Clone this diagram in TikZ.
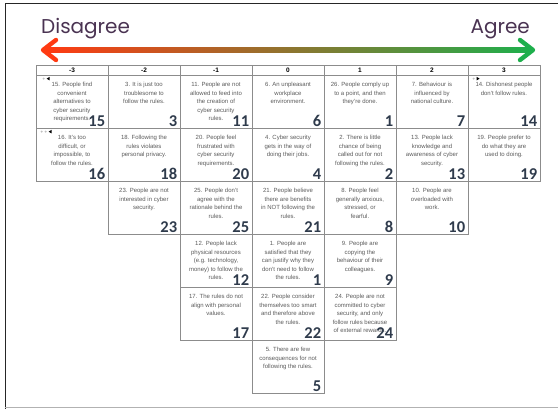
\documentclass[tikz,border=0pt]{standalone}
\usepackage{fontspec}
\setmainfont{Liberation Sans}
\newfontfamily\titlefont{Poppins}
\newfontfamily\numfont{Carlito}
\usetikzlibrary{positioning,calc}
\definecolor{plum}{HTML}{4A3352}
\definecolor{gridgray}{HTML}{8C8C8C}
\definecolor{stmtgray}{HTML}{5A5A5A}
\definecolor{numblue}{HTML}{2F3B4C}
\definecolor{disred}{HTML}{FF3A12}
\definecolor{agrgreen}{HTML}{1EAF4C}
\definecolor{midbrown}{HTML}{B4823A}

% one statement cell: column, row, name, printed number, text
\newcommand\stmtcell[5]{%
  \node[cellbox] (#3) at ({72*(#1+3)+72},{75.5+53*(#2-1)+26.5}) {};
  \node[stmt, below=7pt of #3.north] (#3t) {#5};
  \node[num, above left=2.5pt and 3pt of #3.south east] (#3n) {#4};
}

\begin{document}
\begin{tikzpicture}[x=1pt,y=-1pt,
  cellbox/.style={draw=gridgray,line width=0.7pt,minimum width=72pt,minimum height=53pt,inner sep=0pt},
  headbox/.style={draw=gridgray,line width=0.7pt,minimum width=72pt,minimum height=10.5pt,inner sep=0pt,font=\bfseries\fontsize{6.5}{7}\selectfont},
  stmt/.style={align=center,inner sep=0pt,text=stmtgray,font=\fontsize{6}{8.5}\selectfont},
  num/.style={inner sep=0pt,text=numblue,font=\numfont\bfseries\fontsize{16.5}{17}\selectfont},
  title/.style={inner sep=0pt,text=plum,font=\titlefont\fontsize{20}{22}\selectfont}]
  \useasboundingbox (0,0) rectangle (558,409);
  \draw[black!85,line width=1pt] (5,409) -- (5,4) -- (558,4);
  \draw[black!30,line width=1pt] (5,407.5) -- (558,407.5);

  % scale
  \node[title,anchor=base west] (disagree) at (41,34) {Disagree};
  \node[title,anchor=base east] (agree) at (530,34) {Agree};
  \coordinate (dis) at (43,50);
  \coordinate (agr) at (533,50);
  \shade[left color=disred,middle color=midbrown,right color=agrgreen] ($(dis)+(2,-2.2)$) rectangle ($(agr)+(-2,2.2)$);
  \draw[disred,line width=4.4pt,line cap=round,line join=round] ($(dis)+(13,-10)$) -- (dis) -- ($(dis)+(13,10)$);
  \draw[agrgreen,line width=4.4pt,line cap=round,line join=round] ($(agr)+(-13,-10)$) -- (agr) -- ($(agr)+(-13,10)$);

  % header
  \foreach \c in {-3,...,3}
    \node[headbox] (h\c) at ({72*(\c+3)+72},70.25) {\c};

  % row 1
  \stmtcell{-3}{1}{s15}{15}{15. People find\\convenient\\alternatives to\\cyber security\\requirements.}
  \stmtcell{-2}{1}{s3}{3}{3. It is just too\\troublesome to\\follow the rules.}
  \stmtcell{-1}{1}{s11}{11}{11. People are not\\allowed to feed into\\the creation of\\cyber security\\rules.}
  \stmtcell{0}{1}{s6}{6}{6. An unpleasant\\workplace\\environment.}
  \stmtcell{1}{1}{s26}{1}{26. People comply up\\to a point, and then\\they're done.}
  \stmtcell{2}{1}{s7}{7}{7. Behaviour is\\influenced by\\national culture.}
  \stmtcell{3}{1}{s14}{14}{14. Dishonest people\\don't follow rules.}
  % row 2
  \stmtcell{-3}{2}{s16}{16}{16. It's too\\difficult, or\\impossible, to\\follow the rules.}
  \stmtcell{-2}{2}{s18}{18}{18. Following the\\rules violates\\personal privacy.}
  \stmtcell{-1}{2}{s20}{20}{20. People feel\\frustrated with\\cyber security\\requirements.}
  \stmtcell{0}{2}{s4}{4}{4. Cyber security\\gets in the way of\\doing their jobs.}
  \stmtcell{1}{2}{s2}{2}{2. There is little\\chance of being\\called out for not\\following the rules.}
  \stmtcell{2}{2}{s13}{13}{13. People lack\\knowledge and\\awareness of cyber\\security.}
  \stmtcell{3}{2}{s19}{19}{19. People prefer to\\do what they are\\used to doing.}
  % row 3
  \stmtcell{-2}{3}{s23}{23}{23. People are not\\interested in cyber\\security.}
  \stmtcell{-1}{3}{s25}{25}{25. People don't\\agree with the\\rationale behind the\\rules.}
  \stmtcell{0}{3}{s21}{21}{21. People believe\\there are benefits\\in NOT following the\\rules.}
  \stmtcell{1}{3}{s8}{8}{8. People feel\\generally anxious,\\stressed, or\\fearful.}
  \stmtcell{2}{3}{s10}{10}{10. People are\\overloaded with\\work.}
  % row 4
  \stmtcell{-1}{4}{s12}{12}{12. People lack\\physical resources\\(e.g. technology,\\money) to follow the\\rules.}
  \stmtcell{0}{4}{s1}{1}{1. People are\\satisfied that they\\can justify why they\\don't need to follow\\the rules.}
  \stmtcell{1}{4}{s9}{9}{9. People are\\copying the\\behaviour of their\\colleagues.}
  % row 5
  \stmtcell{-1}{5}{s17}{17}{17. The rules do not\\align with personal\\values.}
  \stmtcell{0}{5}{s22}{22}{22. People consider\\themselves too smart\\and therefore above\\the rules.}
  \stmtcell{1}{5}{s24}{24}{24. People are not\\committed to cyber\\security, and only\\follow rules because\\of external rewards.}
  % row 6
  \stmtcell{0}{6}{s5}{5}{5. There are few\\consequences for not\\following the rules.}

  % comment marks
  \fill[black!25] ($(s15.north west)+(8,3.5)$) circle (1.1pt);
  \fill ($(s15.north west)+(11,3.5)$) -- ($(s15.north west)+(14,1.7)$) -- ($(s15.north west)+(14,5.3)$) -- cycle;
  \fill[black!25] ($(s16.north west)+(6,3.5)$) circle (1.1pt) ($(s16.north west)+(10,3.5)$) circle (1.1pt);
  \fill ($(s16.north west)+(13,3.5)$) -- ($(s16.north west)+(16,1.7)$) -- ($(s16.north west)+(16,5.3)$) -- cycle;
  \fill[black!25] ($(s14.north west)+(6,3.5)$) circle (1.1pt);
  \fill ($(s14.north west)+(12,3.5)$) -- ($(s14.north west)+(9,1.7)$) -- ($(s14.north west)+(9,5.3)$) -- cycle;
\end{tikzpicture}
\end{document}
